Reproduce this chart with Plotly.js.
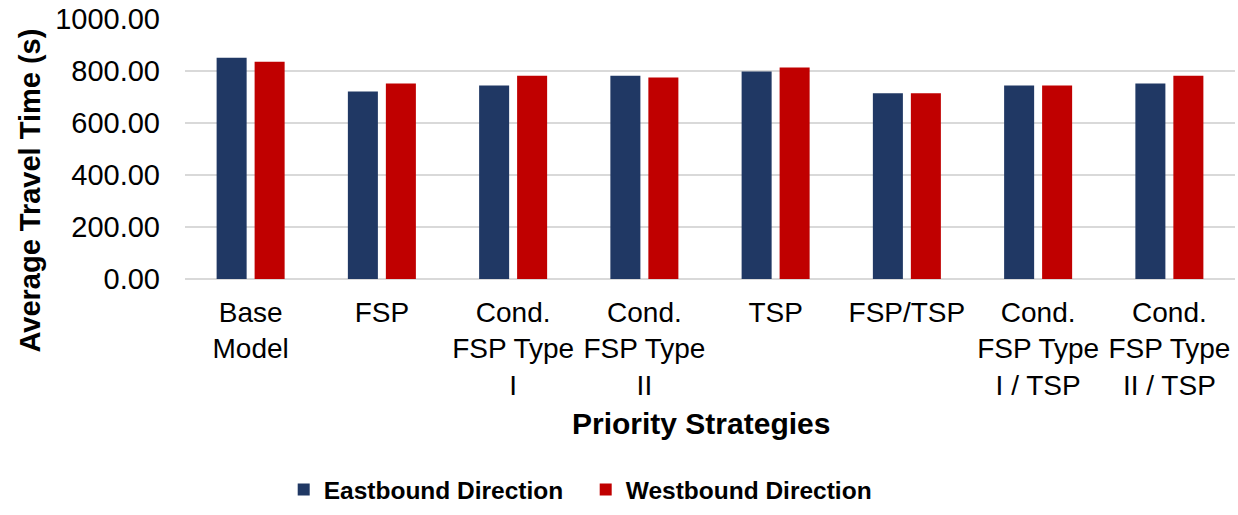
<!DOCTYPE html>
<html>
<head>
<meta charset="utf-8">
<script src="https://cdn.plot.ly/plotly-3.0.1.min.js"></script>
<style>
  html, body { margin: 0; padding: 0; background: #fff; }
  #chart { width: 1238px; height: 515px; }
</style>
</head>
<body>
<div id="chart"></div>
<script>
// Priority strategies (multi-line category labels)
const strategies = [
  "Base<br>Model",
  "FSP",
  "Cond.<br>FSP Type<br>I",
  "Cond.<br>FSP Type<br>II",
  "TSP",
  "FSP/TSP",
  "Cond.<br>FSP Type<br>I / TSP",
  "Cond.<br>FSP Type<br>II / TSP"
];

// Average travel time in seconds
const eastbound = [851, 721, 744, 782, 798, 714, 744, 752];
const westbound = [836, 752, 782, 775, 813, 714, 744, 782];

const yTicks = [0, 200, 400, 600, 800, 1000];

const FONT = '"Liberation Sans", Arial, sans-serif';

const traces = [
  {
    type: 'bar',
    name: 'Eastbound Direction',
    x: strategies,
    y: eastbound,
    marker: { color: '#203864' },
    hoverinfo: 'x+y'
  },
  {
    type: 'bar',
    name: 'Westbound Direction',
    x: strategies,
    y: westbound,
    marker: { color: '#C00000' },
    hoverinfo: 'x+y'
  }
];

const layout = {
  width: 1238,
  height: 515,
  margin: { l: 185, r: 3, t: 19, b: 234 },
  paper_bgcolor: '#ffffff',
  plot_bgcolor: '#ffffff',
  font: { family: FONT, color: '#000000', size: 28 },
  barmode: 'group',
  bargap: 0.421,
  bargroupgap: 0.21,
  showlegend: true,
  legend: {
    orientation: 'h',
    x: 0.094,
    xanchor: 'left',
    y: -0.81,
    yanchor: 'middle',
    entrywidth: 257,
    entrywidthmode: 'pixels',
    font: { family: FONT, size: 24.5, color: '#000000', weight: 'bold' },
    bgcolor: 'rgba(0,0,0,0)',
    itemclick: false,
    itemdoubleclick: false
  },
  xaxis: {
    type: 'category',
    tickfont: { family: FONT, size: 28, color: '#000000' },
    ticks: '',
    showline: false,
    showgrid: false,
    zeroline: false,
    ticklabelstandoff: 14,
    automargin: false
  },
  yaxis: {
    range: [0, 1000],
    tickvals: yTicks,
    tickformat: '.2f',
    tickfont: { family: FONT, size: 29, color: '#000000' },
    ticks: '',
    ticklabelstandoff: 24,
    showline: false,
    showgrid: true,
    gridcolor: '#d9d9d9',
    gridwidth: 2,
    zeroline: true,
    zerolinecolor: '#d9d9d9',
    zerolinewidth: 2,
    automargin: false
  },
  annotations: [
    {
      // y-axis title, placed lower than the plot centre
      text: 'Average Travel Time (s)',
      xref: 'paper',
      yref: 'paper',
      x: -0.1476,
      y: 0.34,
      xanchor: 'center',
      yanchor: 'middle',
      textangle: -90,
      showarrow: false,
      font: { family: FONT, size: 29, color: '#000000', weight: 'bold' }
    },
    {
      // x-axis title
      text: 'Priority Strategies',
      xref: 'paper',
      yref: 'paper',
      x: 0.4914,
      y: -0.557,
      xanchor: 'center',
      yanchor: 'middle',
      showarrow: false,
      font: { family: FONT, size: 30, color: '#000000', weight: 'bold' }
    }
  ]
};

Plotly.newPlot('chart', traces, layout, { staticPlot: true, displayModeBar: false });
</script>
</body>
</html>
